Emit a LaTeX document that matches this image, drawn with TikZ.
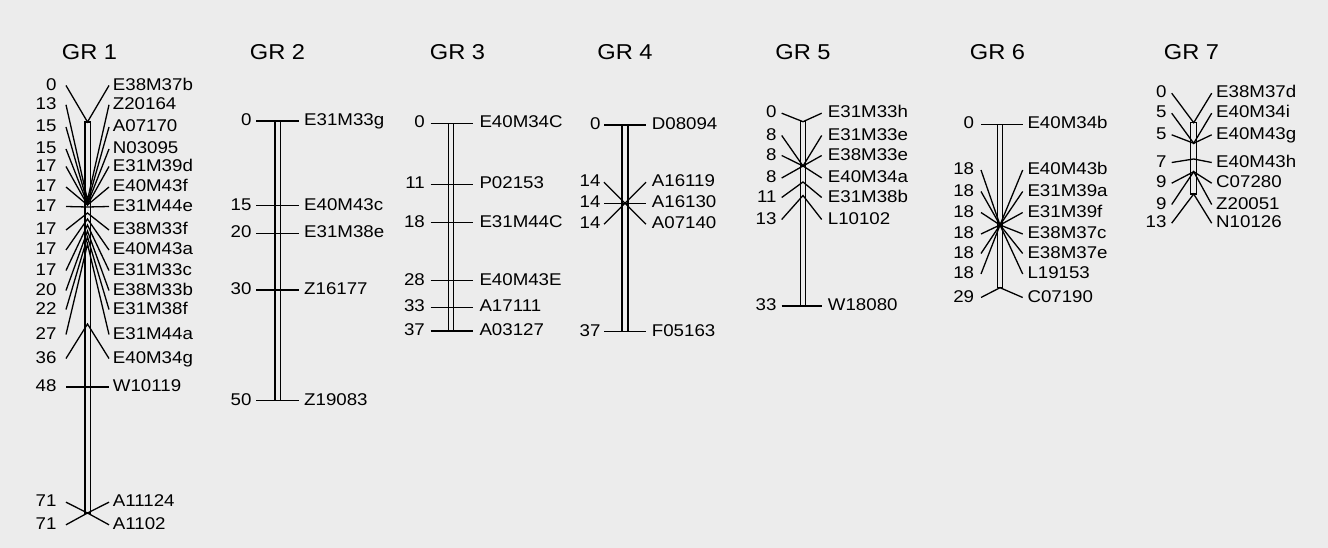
\documentclass[tikz,border=0pt]{standalone}
\usepackage{fontspec}
\setmainfont{Liberation Sans}[FakeStretch=1.10]
\definecolor{bgc}{RGB}{236,236,236}
\newcommand\grp[2]{%
  \draw[barline] (\gBx-\gHw,\gTop) rectangle (\gBx+\gHw,\gBot);
  \foreach \cy/\ly/\nm/\mkr [count=\i] in {#2} {
    \coordinate (#1p\i) at (\gBx,\cy);
    \coordinate (#1l\i) at (\gLx,\ly+1.5);
    \coordinate (#1r\i) at (\gRx,\ly+1.5);
    \node[numlab] (#1n\i) at (\gNx,\ly+6.1) {\nm};
    \node[mklab] (#1m\i) at (\gMx,\ly+6.1) {\mkr};
    \draw[conn] (#1l\i) -- (#1p\i) -- (#1r\i);
  }}
\begin{document}
\begin{tikzpicture}[x=1pt,y=-1pt,
  numlab/.style={inner sep=0pt, anchor=base east, font=\fontsize{17}{19}\selectfont},
  mklab/.style={inner sep=0pt, anchor=base west, font=\fontsize{17}{19}\selectfont},
  ttl/.style={inner sep=0pt, anchor=base, font=\fontsize{21.5}{24}\selectfont},
  conn/.style={line width=1.3pt},
  barline/.style={line width=1.2pt}]
\fill[bgc] (0,0) rectangle (1328,548);
\useasboundingbox (0,0) rectangle (1328,548);

\node[ttl] (t1) at (89.5,60) {GR 1};
\node[ttl] (t2) at (277.5,60) {GR 2};
\node[ttl] (t3) at (457.5,60) {GR 3};
\node[ttl] (t4) at (625,60) {GR 4};
\node[ttl] (t5) at (803,60) {GR 5};
\node[ttl] (t6) at (997.5,60) {GR 6};
\node[ttl] (t7) at (1191.5,60) {GR 7};

% GR 1
\def\gBx{87.5}\def\gHw{2.6}\def\gTop{122}\def\gBot{513}
\def\gLx{66}\def\gRx{109}\def\gNx{56.7}\def\gMx{112.7}
\grp{a}{122/84/0/E38M37b, 200/103.3/13/Z20164, 203/125.5/15/A07170, 204/147.5/15/N03095,
 205/165/17/E31M39d, 205/185.5/17/E40M43f, 207/205/17/E31M44e, 213/228.5/17/E38M33f,
 219/248.5/17/E40M43a, 225/269/17/E31M33c, 231/289/20/E38M33b, 237/308/22/E31M38f,
 244/333/27/E31M44a, 324/357/36/E40M34g, 387/385.5/48/W10119, 513/500.7/71/A11124,
 513/523.3/71/A1102}

% GR 2
\def\gBx{277.5}\def\gHw{2.6}\def\gTop{121}\def\gBot{400.7}
\def\gLx{256}\def\gRx{299}\def\gNx{251.7}\def\gMx{304}
\grp{b}{121/119.5/0/E31M33g, 205.7/204.2/15/E40M43c, 233.3/231.8/20/E31M38e,
 290/288.5/30/Z16177, 400.7/399.2/50/Z19083}

% GR 3
\def\gBx{451}\def\gHw{2.8}\def\gTop{123.3}\def\gBot{331}
\def\gLx{430.7}\def\gRx{472.7}\def\gNx{425}\def\gMx{479.3}
\grp{c}{123.3/121.8/0/E40M34C, 184.3/182.8/11/P02153, 222.7/221.2/18/E31M44C,
 280.7/279.2/28/E40M43E, 307.3/305.8/33/A17111, 331/329.5/37/A03127}

% GR 4
\def\gBx{625}\def\gHw{3}\def\gTop{125}\def\gBot{331.7}
\def\gLx{604}\def\gRx{646}\def\gNx{600.7}\def\gMx{651.7}
\grp{d}{125/123.5/0/D08094, 203.3/180.7/14/A16119, 203.3/201.8/14/A16130,
 203.3/222.7/14/A07140, 331.7/330.2/37/F05163}

% GR 5
\def\gBx{803}\def\gHw{2.4}\def\gTop{121.7}\def\gBot{306}
\def\gLx{781.7}\def\gRx{821.7}\def\gNx{776.7}\def\gMx{827.7}
\grp{e}{121.7/111.7/0/E31M33h, 166/134/8/E31M33e, 166/154/8/E38M33e,
 166/176.5/8/E40M34a, 182/196/11/E31M38b, 195.5/218/13/L10102, 306/304.5/33/W18080}

% GR 6
\def\gBx{1000}\def\gHw{2.7}\def\gTop{124.3}\def\gBot{287.7}
\def\gLx{981}\def\gRx{1022.7}\def\gNx{974.3}\def\gMx{1027.3}
\grp{f}{124.3/122.8/0/E40M34b, 225/168.5/18/E40M43b, 225/190/18/E31M39a,
 225/211/18/E31M39f, 225/232.5/18/E38M37c, 225/252/18/E38M37e, 225/272.5/18/L19153,
 287.7/296/29/C07190}

% GR 7
\def\gBx{1193.7}\def\gHw{3}\def\gTop{122.7}\def\gBot{194}
\def\gLx{1171.7}\def\gRx{1211.7}\def\gNx{1166.7}\def\gMx{1216}
\grp{g}{122.7/91.7/0/E38M37d, 143.3/111.7/5/E40M34i, 143.3/133.3/5/E40M43g,
 159/161/7/E40M43h, 171.7/181.7/9/C07280, 171.7/203/9/Z20051, 194/221.7/13/N10126}
\end{tikzpicture}
\end{document}
